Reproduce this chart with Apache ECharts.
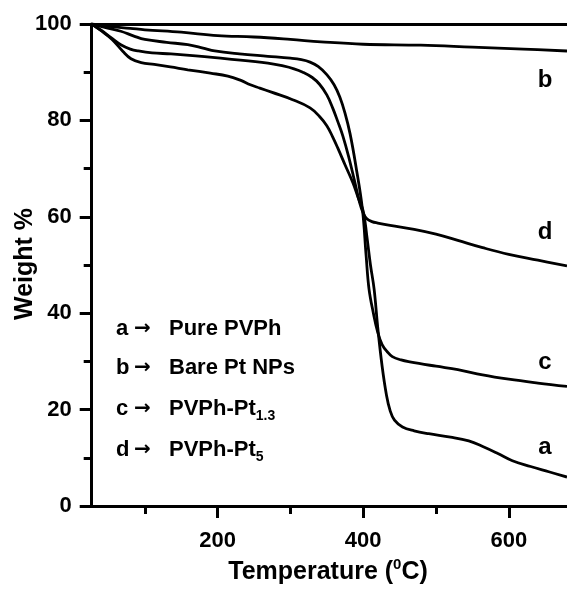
<!DOCTYPE html>
<html>
<head>
<meta charset="utf-8">
<script src="https://cdn.jsdelivr.net/npm/echarts@6/dist/echarts.min.js"></script>
<style>html,body{margin:0;padding:0;background:#fff}#c{width:567px;height:589px}</style>
</head>
<body>
<div id="c"></div>
<script>
// Data (temperature in °C, weight in %)
const tempA = [27,40,55,70,81,95,113,135,159,190,214,232,245,258,275,303,327,340,350,358,365,375,386,393,400,405,410,415,420,426,432,437,443,454,470,490,520,545,565,585,605,630,655,680];
const weightA = [100,98.6,96.8,94.3,92.8,92.0,91.6,91.1,90.5,89.8,89.2,88.3,87.4,86.7,85.8,84.3,82.6,80.8,78.9,76.6,74.3,70.8,67.0,64.0,61.2,56,50,45,37,29,23,19.8,17.8,16.4,15.6,15.0,14.3,13.5,12.3,10.9,9.4,8.2,7.1,6.0];

const tempB = [27,50,80,100,150,200,250,300,342,400,479,550,620,680];
const weightB = [100,99.5,99.1,98.8,98.3,97.6,97.3,96.8,96.3,95.8,95.6,95.2,94.8,94.4];

const tempC = [27,45,67,85,100,130,159,180,196,230,269,300,315,327,338,350,360,368,375,382,390,399,404,408,414,420,426,433,440,452,464,500,530,564,600,640,680];
const weightC = [100,99.3,98.5,97.5,96.8,96.2,95.7,95.0,94.4,93.8,93.3,92.9,92.6,92.1,91.2,89.5,87.4,84.8,81.5,77.2,70.5,61.5,52,45,40,36,33.5,32,31,30.3,29.9,29,28.3,27.2,26.3,25.5,24.8];

const tempD = [27,40,55,67,80,91,110,136,170,210,269,290,305,317,330,340,350,358,365,372,380,388,395,400,405,412,420,437,470,500,530,564,600,640,680];
const weightD = [100,98.7,97,95.7,94.8,94.4,94.0,93.8,93.4,92.8,91.9,91.3,90.7,90.0,88.9,87.5,85.3,82.6,79.8,76.8,72.5,67.5,63.0,60.8,59.6,59.0,58.7,58.2,57.4,56.4,55.1,53.6,52.2,51,49.8];

const xMajorTicks = [200,400,600];
const xMinorTicks = [100,300,500];
const curveLetters = ['a','b','c','d'];
const legendNames = ['Pure PVPh','Bare Pt NPs','{m|PVPh-Pt}{s|1.3}','{m|PVPh-Pt}{s|5}'];

function pairs(xs, ys){ return xs.map((x,i)=>[x, ys[i]]); }

const FONT = '"Liberation Sans", Arial, sans-serif';
const chart = echarts.init(document.getElementById('c'), null, {renderer:'canvas'});

const lineSeries = (xs, ys) => ({
  type:'line', data: pairs(xs, ys), showSymbol:false, smooth:0.4,
  lineStyle:{color:'#000', width:2.8}, xAxisIndex:0, yAxisIndex:0, silent:true
});

const legendRich = {
  m:{fontFamily:FONT, fontWeight:'bold', fontSize:22, fill:'#000', lineHeight:28},
  s:{fontFamily:FONT, fontWeight:'bold', fontSize:14, fill:'#000', lineHeight:28, verticalAlign:'bottom'}
};

function gText(x, y, text, size, extra){
  return Object.assign({type:'text', x:x, y:y, silent:true,
    style:Object.assign({text:text, fontFamily:FONT, fontWeight:'bold', fontSize:size, fill:'#000',
      textAlign:'left', textVerticalAlign:'middle'}, extra||{})});
}

const legendY = [329, 368, 409, 450];
const legendGraphics = [];
legendY.forEach((y, i) => {
  legendGraphics.push(gText(116, y, curveLetters[i], 22));
  legendGraphics.push(gText(134, y, '\u2192', 20, {fontFamily:'"DejaVu Sans", sans-serif'}));
  legendGraphics.push({type:'text', x:169, y:y, silent:true,
    style:{text: i < 2 ? '{m|' + legendNames[i] + '}' : legendNames[i], textAlign:'left', textVerticalAlign:'middle', rich:legendRich}});
});

chart.setOption({
  animation:false,
  backgroundColor:'#fff',
  grid:{left:91.7, right:0, top:24, bottom:83, containLabel:false},
  xAxis:[
    {type:'value', min:27, max:680, position:'bottom',
     axisLine:{show:true, lineStyle:{color:'#000', width:3}},
     axisTick:{show:true, customValues:xMajorTicks, length:12, lineStyle:{color:'#000', width:3}},
     axisLabel:{show:true, customValues:xMajorTicks, fontFamily:FONT, fontWeight:'bold', fontSize:22, color:'#000', margin:24},
     splitLine:{show:false}},
    {type:'value', min:27, max:680, position:'bottom',
     axisLine:{show:false},
     axisTick:{show:true, customValues:xMinorTicks, length:8, lineStyle:{color:'#000', width:3}},
     axisLabel:{show:false}, splitLine:{show:false}},
    {type:'value', min:27, max:680, position:'top',
     axisLine:{show:true, lineStyle:{color:'#000', width:3}},
     axisTick:{show:false}, axisLabel:{show:false}, splitLine:{show:false}}
  ],
  yAxis:{type:'value', min:0, max:100, interval:20,
    axisLine:{show:true, lineStyle:{color:'#000', width:3}},
    axisTick:{show:true, length:12, lineStyle:{color:'#000', width:3}},
    minorTick:{show:true, splitNumber:2, length:8, lineStyle:{color:'#000', width:3}},
    axisLabel:{fontFamily:FONT, fontWeight:'bold', fontSize:22, color:'#000', margin:20},
    splitLine:{show:false}, minorSplitLine:{show:false}},
  series:[
    lineSeries(tempA, weightA),
    lineSeries(tempB, weightB),
    lineSeries(tempC, weightC),
    lineSeries(tempD, weightD)
  ],
  graphic:[
    {type:'text', x:25, y:264, rotation:Math.PI/2, silent:true,
     style:{text:'Weight %', fontFamily:FONT, fontWeight:'bold', fontSize:25, fill:'#000', textAlign:'center', textVerticalAlign:'middle'}},
    {type:'text', x:328, y:572, silent:true,
     style:{text:'{t|Temperature (}{s|0}{t|C)}', textAlign:'center', textVerticalAlign:'middle',
       rich:{t:{fontFamily:FONT, fontWeight:'bold', fontSize:25, fill:'#000', lineHeight:30},
             s:{fontFamily:FONT, fontWeight:'bold', fontSize:15, fill:'#000', lineHeight:30, verticalAlign:'top'}}}},
    gText(545, 80, curveLetters[1], 24, {textAlign:'center'}),
    gText(545, 232, curveLetters[3], 24, {textAlign:'center'}),
    gText(545, 362, curveLetters[2], 24, {textAlign:'center'}),
    gText(545, 447, curveLetters[0], 24, {textAlign:'center'})
  ].concat(legendGraphics)
});
</script>
</body>
</html>
